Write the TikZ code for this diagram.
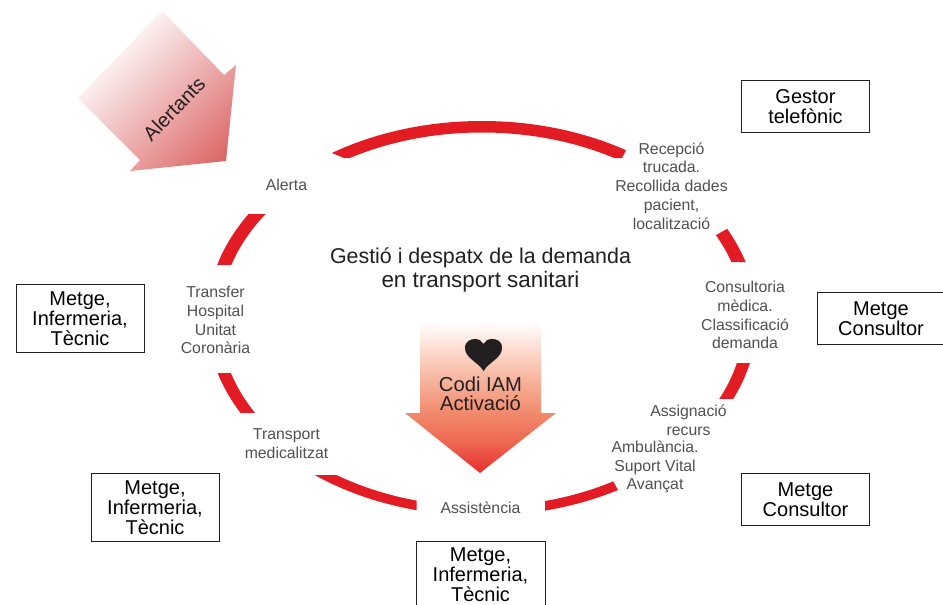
\documentclass[tikz,border=0pt]{standalone}
\usepackage{fontspec}
\setmainfont{Liberation Sans}
\definecolor{ringred}{HTML}{E31B23}
\definecolor{lblgrey}{HTML}{505050}
\definecolor{inkdark}{HTML}{231F20}
\definecolor{alertdark}{HTML}{DC6464}
\definecolor{codia}{HTML}{E62E2E}
\definecolor{codib}{HTML}{EE6650}
\definecolor{codic}{HTML}{F18A6C}
\definecolor{codid}{HTML}{F9C4B0}
\pgfdeclareverticalshading{alertshade}{100bp}{color(0bp)=(alertdark); color(19bp)=(alertdark); color(72bp)=(white); color(100bp)=(white)}
\pgfdeclareverticalshading{codishade}{100bp}{color(0bp)=(codia); color(25bp)=(codia); color(35bp)=(codib); color(45bp)=(codic); color(60bp)=(codid); color(75bp)=(white); color(100bp)=(white)}
\newcommand{\ringpath}{(482,318.4) ellipse [x radius=275,y radius=197.4] (482,319.5) ellipse [x radius=262,y radius=187]}
\tikzset{
  boxed/.style={draw=inkdark,line width=0.8pt,fill=white,inner sep=0pt,align=center,text=black,font=\fontsize{20}{20}\selectfont},
  lbl/.style={inner sep=0pt,align=center,text=lblgrey,font=\fontsize{15.8}{18.8}\selectfont},
  ttl/.style={inner sep=0pt,align=center,text=inkdark,font=\fontsize{21.4}{24}\selectfont},
}
\begin{document}
\begin{tikzpicture}[x=1pt,y=-1pt]
\useasboundingbox (0,0) rectangle (943,605);
\clip (0,0) rectangle (943,605);
% ring segments
\foreach \cl in {
  {(320,100) -- (640,100) -- (627,148) -- (622,158) -- (344,158) -- (332,153) -- cycle},
  {(200,214) rectangle (300,264)},
  {(200,373) rectangle (300,412)},
  {(300,475) rectangle (416.5,530)},
  {(545,530) -- (545,470) -- (607,470) -- (640,530) -- cycle},
  {(700,244) -- (770,205) -- (770,262) -- (700,262) -- cycle},
  {(690,363) rectangle (770,398)}} {
  \begin{scope}
    \clip \cl;
    \fill[ringred,even odd rule] \ringpath;
  \end{scope}
}
% Alertants arrow
\shade[shading=alertshade,shading angle=45]
  (162,11) -- (224,75) -- (236,65) -- (226,161) -- (130,171) -- (140,160) -- (78,98) -- cycle;
\node[inner sep=0pt,rotate=46,text=inkdark,font=\fontsize{20}{20}\selectfont] (alertants) at (174,109) {Alertants};
% Codi IAM arrow
\shade[shading=codishade]
  (420,322) -- (541,322) -- (541,413) -- (556,413) -- (480,473) -- (405,413) -- (420,413) -- cycle;
\fill[inkdark] (483.5,371) .. controls (478,362) and (465,358) .. (465,348)
  .. controls (465,341) and (471,339) .. (475,339)
  .. controls (479,339) and (482,341) .. (483.5,344)
  .. controls (485,341) and (488,339) .. (492,339)
  .. controls (497,339) and (502,341) .. (502,348)
  .. controls (502,358) and (489,362) .. (483.5,371) -- cycle;
\node[ttl,font=\fontsize{20.2}{19.5}\selectfont] (codi) at (480.5,394) {Codi IAM\\Activació};
% title
\node[ttl] (title) at (480.5,269.5) {Gestió i despatx de la demanda\\\fontsize{22.4}{24}\selectfont en transport sanitari};
% labels
\node[lbl] (alerta) at (286.5,184.5) {Alerta};
\node[lbl] (recepcio) at (671.5,186) {Recepció\\trucada.\\Recollida dades\\pacient,\\localització};
\node[lbl] (consult) at (745,315) {Consultoria\\mèdica.\\Classificació\\demanda};
\node[lbl] (assign) at (688.5,420) {Assignació\\recurs};
\node[lbl] (ambul) at (655,467) {Ambulància.\\Suport Vital\\Avançat};
\node[lbl] (assist) at (480.5,507.5) {Assistència};
\node[lbl] (transp) at (286.5,443.5) {Transport\\medicalitzat};
\node[lbl] (transf) at (215.5,320) {Transfer\\Hospital\\Unitat\\Coronària};
% boxes
\node[boxed,minimum width=128pt,minimum height=52pt] (b1) at (805.5,106.5) {Gestor\\telefònic};
\node[boxed,minimum width=128pt,minimum height=52pt] (b2) at (881,318.5) {Metge\\Consultor};
\node[boxed,minimum width=128pt,minimum height=52pt] (b3) at (805.5,499.5) {Metge\\Consultor};
\node[boxed,minimum width=128pt,minimum height=68pt] (b4) at (80,318.5) {Metge,\\Infermeria,\\Tècnic};
\node[boxed,minimum width=128pt,minimum height=68pt] (b5) at (155,507.5) {Metge,\\Infermeria,\\Tècnic};
\node[boxed,minimum width=129pt,minimum height=68pt] (b6) at (480.5,575) {Metge,\\Infermeria,\\Tècnic};
\end{tikzpicture}
\end{document}
